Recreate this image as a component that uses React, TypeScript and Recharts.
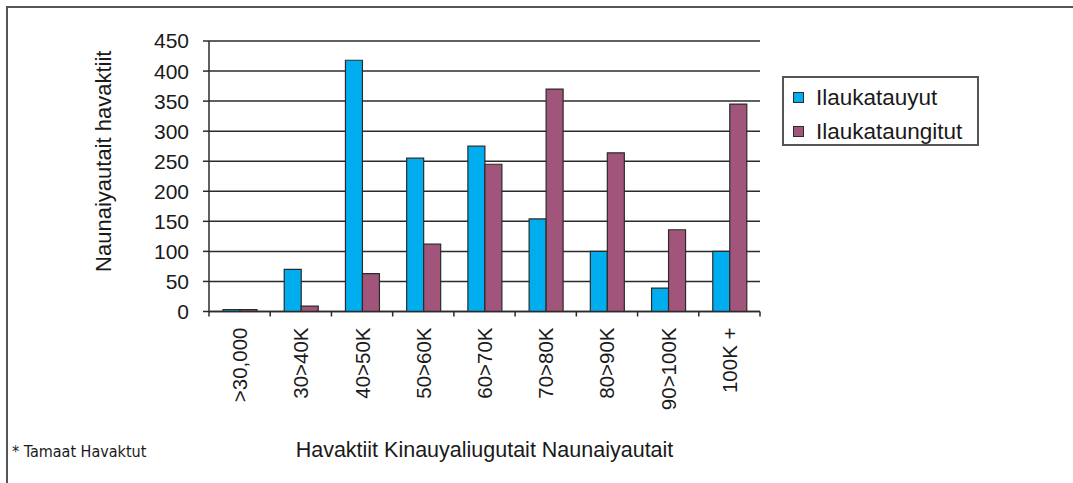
import { Bar, BarChart, CartesianGrid, Label, Legend, XAxis, YAxis } from "recharts"

const CATEGORIES = [">30,000", "30>40K", "40>50K", "50>60K", "60>70K", "70>80K", "80>90K", "90>100K", "100K +"]
const ILAUKATAUYUT = [3, 70, 418, 255, 275, 154, 100, 39, 100]
const ILAUKATAUNGITUT = [3, 9, 63, 112, 245, 370, 264, 136, 345]
const Y_TICKS = [0, 50, 100, 150, 200, 250, 300, 350, 400, 450]

const SERIES = [
  { key: "ilaukatauyut", name: "Ilaukatauyut", color: "#00adef" },
  { key: "ilaukataungitut", name: "Ilaukataungitut", color: "#a2557a" },
]

const data = CATEGORIES.map((label, i) => ({
  label,
  ilaukatauyut: ILAUKATAUYUT[i],
  ilaukataungitut: ILAUKATAUNGITUT[i],
}))

const FONT = "'Liberation Sans', Arial, Helvetica, sans-serif"
const INK = "#2b2b2b"
const W = 1073
const H = 483
const MARGIN = { top: 41, right: 313, bottom: 0, left: 0 }
const Y_AXIS_W = 209
const PLOT_W = W - MARGIN.left - MARGIN.right - Y_AXIS_W
const BAND = PLOT_W / CATEGORIES.length

function XTick({ x, y, payload, index }: { x: number; y: number; payload: { value: string }; index: number }) {
  const last = index === CATEGORIES.length - 1
  const ty = y + 16
  return (
    <g>
      <line x1={x - BAND / 2} x2={x - BAND / 2} y1={y} y2={y + 5} stroke={INK} strokeWidth={1.5} />
      {last && <line x1={x + BAND / 2} x2={x + BAND / 2} y1={y} y2={y + 5} stroke={INK} strokeWidth={1.5} />}
      <text
        x={x}
        y={ty}
        transform={`rotate(-90 ${x} ${ty})`}
        textAnchor="end"
        dominantBaseline="central"
        fill="#1a1a1a"
        fontSize={20.5}
        fontFamily={FONT}
      >
        {payload.value}
      </text>
    </g>
  )
}

function LegendBox() {
  return (
    <div
      style={{
        boxSizing: "border-box",
        width: 197,
        height: 70,
        border: "2px solid #555",
        background: "#fff",
        padding: "6px 0 0 9px",
        fontFamily: FONT,
        fontSize: 22.5,
        color: "#1a1a1a",
      }}
    >
      {SERIES.map((s) => (
        <div key={s.key} style={{ display: "flex", alignItems: "center", height: 27, marginBottom: 7 }}>
          <span
            style={{
              display: "inline-block",
              width: 9,
              height: 9,
              background: s.color,
              border: `1.5px solid ${INK}`,
              marginRight: 12,
            }}
          />
          {s.name}
        </div>
      ))}
    </div>
  )
}

export default function App() {
  return (
    <div style={{ position: "absolute", left: 0, top: 0, width: W, height: H, background: "#fff" }}>
      <div
        style={{
          position: "absolute",
          left: 6,
          top: 6,
          right: 0,
          bottom: 0,
          borderTop: "2px solid #555",
          borderLeft: "2px solid #555",
        }}
      />
      <BarChart
        width={W}
        height={H}
        data={data}
        margin={MARGIN}
        barSize={17}
        barGap={0}
        style={{ position: "absolute", left: 0, top: 0 }}
      >
        <CartesianGrid vertical={false} stroke={INK} strokeWidth={1.5} />
        <XAxis
          dataKey="label"
          height={171.5}
          axisLine={{ stroke: INK, strokeWidth: 1.5 }}
          tickLine={false}
          tickSize={0}
          tickMargin={0}
          interval={0}
          tick={(props: any) => <XTick {...props} />}
        >
          <Label
            value="Havaktiit Kinauyaliugutait Naunaiyautait"
            position="insideBottom"
            offset={26}
            style={{ fill: "#1a1a1a", fontSize: 21.5, fontFamily: FONT }}
          />
        </XAxis>
        <YAxis
          width={Y_AXIS_W}
          domain={[0, 450]}
          ticks={Y_TICKS}
          interval={0}
          axisLine={{ stroke: INK, strokeWidth: 1.5 }}
          tickLine={{ stroke: INK, strokeWidth: 1.5 }}
          tickSize={6}
          tickMargin={14}
          tick={{ fill: "#1a1a1a", fontSize: 21, fontFamily: FONT }}
        >
          <Label
            content={({ viewBox }: any) => {
              const cx = viewBox.x + 103
              const cy = viewBox.y + viewBox.height / 2 - 15
              return (
                <text
                  x={cx}
                  y={cy}
                  transform={`rotate(-90 ${cx} ${cy})`}
                  textAnchor="middle"
                  dominantBaseline="central"
                  fill="#1a1a1a"
                  fontSize={22}
                  fontFamily={FONT}
                >
                  Naunaiyautait havaktiit
                </text>
              )
            }}
          />
        </YAxis>
        <YAxis
          yAxisId="frame"
          orientation="right"
          width={0}
          domain={[0, 450]}
          tick={false}
          tickLine={false}
          axisLine={{ stroke: INK, strokeWidth: 1.5 }}
        />
        <Legend
          layout="vertical"
          align="center"
          verticalAlign="middle"
          wrapperStyle={{ left: 782, top: 76, width: 197 }}
          content={() => <LegendBox />}
        />
        {SERIES.map((s) => (
          <Bar
            key={s.key}
            dataKey={s.key}
            name={s.name}
            fill={s.color}
            stroke={INK}
            strokeWidth={1.2}
            isAnimationActive={false}
          />
        ))}
      </BarChart>
      <div
        style={{
          position: "absolute",
          left: 12,
          top: 442,
          fontFamily: "'Liberation Sans Narrow', 'DejaVu Sans Condensed', sans-serif",
          fontSize: 16,
          color: "#1a1a1a",
        }}
      >
        * Tamaat Havaktut
      </div>
    </div>
  )
}
